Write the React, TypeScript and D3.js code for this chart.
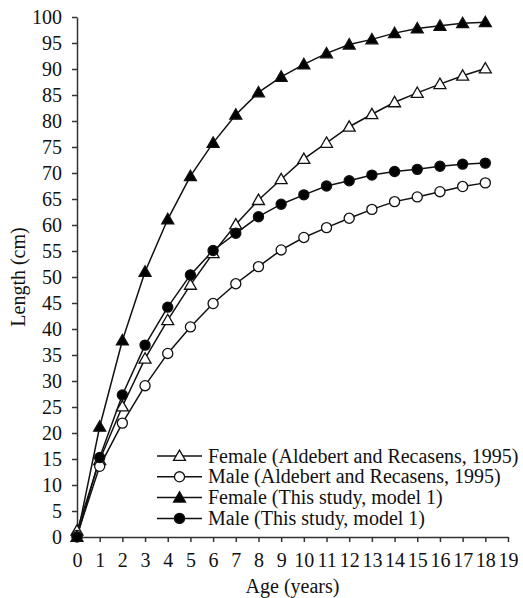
import * as d3 from "d3";
import { useEffect, useRef } from "react";

// ages 0..18
const ages = [0, 1, 2, 3, 4, 5, 6, 7, 8, 9, 10, 11, 12, 13, 14, 15, 16, 17, 18];

const femaleAldebert = [1.2, 14.8, 25.1, 34.3, 41.7, 48.5, 54.6, 60.1, 64.8, 68.8, 72.7, 75.8, 78.9, 81.3, 83.6, 85.4, 87.1, 88.7, 90.1];
const maleAldebert = [0.3, 13.6, 21.9, 29.1, 35.3, 40.4, 44.9, 48.7, 52.0, 55.2, 57.6, 59.5, 61.3, 63.0, 64.5, 65.4, 66.4, 67.4, 68.1];
const femaleStudy = [0, 21.2, 37.8, 51.0, 61.1, 69.4, 75.8, 81.2, 85.5, 88.5, 90.9, 93.0, 94.7, 95.7, 96.9, 97.8, 98.3, 98.8, 99.0];
const maleStudy = [0, 15.3, 27.3, 36.9, 44.2, 50.4, 55.1, 58.4, 61.6, 64.0, 65.8, 67.5, 68.5, 69.6, 70.3, 70.7, 71.3, 71.7, 71.9];

const seriesNames = [
  "Female (Aldebert and Recasens, 1995)",
  "Male (Aldebert and Recasens, 1995)",
  "Female (This study, model 1)",
  "Male (This study, model 1)",
];

const xTicks = d3.range(0, 20);
const yTicks = d3.range(0, 101, 5);

const W = 523;
const H = 598;
const margin = { left: 77, right: 15, top: 17, bottom: 61 };
const FONT = "Liberation Serif, DejaVu Serif, Times New Roman, serif";

export default function App() {
  const svgRef = useRef(null);

  useEffect(() => {
    const svgEl = d3.select(svgRef.current);
    svgEl.selectAll("*").remove();

    const x = d3.scaleLinear().domain([0, 19]).range([margin.left, W - margin.right]);
    const y = d3.scaleLinear().domain([0, 100]).range([H - margin.bottom, margin.top]);

    const svg = svgEl.append("g").style("font-family", FONT);

    // axes
    const xAxis = d3.axisBottom(x).tickValues(xTicks).tickSize(5).tickSizeOuter(0).tickPadding(11);
    const xg = svg.append("g").attr("transform", `translate(0,${y(0)})`).call(xAxis);
    xg.attr("font-family", null).attr("font-size", null);
    xg.select(".domain").attr("stroke", "#333").attr("stroke-width", 1.5);
    xg.selectAll("line").attr("stroke", "#333").attr("stroke-width", 1.5);
    xg.selectAll("text").style("font-size", "20px").attr("fill", "#111");

    const yAxis = d3.axisLeft(y).tickValues(yTicks).tickSize(5).tickSizeOuter(0).tickPadding(10);
    const yg = svg.append("g").attr("transform", `translate(${x(0)},0)`).call(yAxis);
    yg.attr("font-family", null).attr("font-size", null);
    yg.select(".domain").attr("stroke", "#333").attr("stroke-width", 1.5);
    yg.selectAll("line").attr("stroke", "#333").attr("stroke-width", 1.5);
    yg.selectAll("text").style("font-size", "20px").attr("fill", "#111");

    // titles
    svg.append("text")
      .attr("x", (x(0) + x(19)) / 2)
      .attr("y", H - 5)
      .attr("text-anchor", "middle")
      .style("font-size", "20px")
      .attr("fill", "#111")
      .text("Age (years)");
    svg.append("text")
      .attr("transform", `translate(25,${(y(0) + y(100)) / 2}) rotate(-90)`)
      .attr("text-anchor", "middle")
      .style("font-size", "20px")
      .attr("fill", "#111")
      .text("Length (cm)");

    const series = [
      { name: seriesNames[0], values: femaleAldebert, shape: d3.symbolTriangle, fill: "#fff" },
      { name: seriesNames[1], values: maleAldebert, shape: d3.symbolCircle, fill: "#fff" },
      { name: seriesNames[2], values: femaleStudy, shape: d3.symbolTriangle, fill: "#000" },
      { name: seriesNames[3], values: maleStudy, shape: d3.symbolCircle, fill: "#000" },
    ];

    const line = d3.line<number>().x((_, i) => x(ages[i])).y((d) => y(d));

    series.forEach((s) => {
      svg.append("path")
        .attr("d", line(s.values))
        .attr("fill", "none")
        .attr("stroke", "#111")
        .attr("stroke-width", 1.5);
    });

    const sym = (shape) => d3.symbol().type(shape).size(shape === d3.symbolTriangle ? 62 : 80)();

    series.forEach((s) => {
      svg.append("g")
        .selectAll("path")
        .data(s.values)
        .join("path")
        .attr("transform", (d, i) => `translate(${x(ages[i])},${y(d) + (s.shape === d3.symbolTriangle ? 1 : 0)})`)
        .attr("d", sym(s.shape))
        .attr("fill", s.fill)
        .attr("stroke", "#111")
        .attr("stroke-width", 1.3);
    });

    // legend
    const lg = svg.append("g");
    series.forEach((s, i) => {
      const cy = 456 + i * 20.8;
      lg.append("line")
        .attr("x1", 157).attr("x2", 202)
        .attr("y1", cy).attr("y2", cy)
        .attr("stroke", "#111").attr("stroke-width", 1.5);
      lg.append("path")
        .attr("transform", `translate(179.5,${cy + (s.shape === d3.symbolTriangle ? 1 : 0)})`)
        .attr("d", sym(s.shape))
        .attr("fill", s.fill)
        .attr("stroke", "#111")
        .attr("stroke-width", 1.3);
      lg.append("text")
        .attr("x", 208)
        .attr("y", cy + 6.5)
        .style("font-size", "20px")
        .attr("fill", "#111")
        .text(s.name);
    });
  }, []);

  return (
    <svg ref={svgRef} width={W} height={H} style={{ position: "absolute", left: 0, top: 0, background: "#fff" }} />
  );
}
